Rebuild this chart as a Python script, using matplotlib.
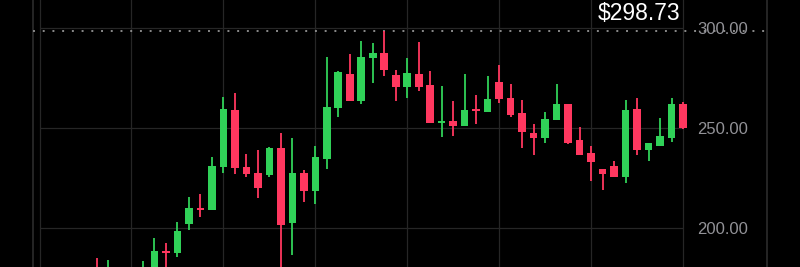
import matplotlib
matplotlib.use("Agg")
import matplotlib.pyplot as plt
from matplotlib import font_manager as fm
import numpy as np

# ---- data ----
opens  = [179, 172, 176, 171, 176, 179, 188.5, 187.5, 202, 210, 209, 230.5, 259, 230.5, 227.5,
          226.5, 240, 202.5, 227.5, 218.5, 234.5, 260, 277, 263.5, 285, 287.5, 276.5, 270.5, 277,
          271.5, 252.5, 253.5, 251, 259, 258, 273, 265, 257.5, 247.5, 245, 254, 262, 244, 237.5,
          229.5, 231, 225.5, 259.5, 239, 241, 245, 262]
closes = [174, 179, 172, 177, 180, 188.5, 187.5, 198.5, 210, 209, 231, 259.5, 230, 227, 220,
          240, 201.5, 227.5, 218.5, 235.5, 260.5, 278, 263.5, 285.5, 287.5, 279, 270.5, 277.5, 270.5,
          252.5, 253.5, 251, 259, 258.5, 264.5, 264.5, 256.5, 248, 245, 254.5, 262, 242.5, 236.5, 233,
          227, 225.5, 259, 239, 242.5, 246, 262, 250]
highs  = [185, 184, 179, 179, 183.5, 195, 192.5, 203, 215.5, 217, 235.5, 265.5, 267.5, 237, 239,
          240.5, 247.5, 245, 229, 241, 285.5, 278.5, 287, 293.5, 292.5, 298.73, 279, 285, 293,
          278.5, 271, 263.5, 277, 266.5, 276, 281.5, 272, 264, 252, 258, 272, 262, 250.5, 241,
          229.5, 233.5, 264, 265, 242.5, 255, 265, 263]
lows   = [170, 168, 168, 167, 173, 176, 179, 185.5, 199, 205.5, 209, 227.5, 227, 225.5, 215,
          225.5, 178, 186.5, 213, 212, 229.5, 255.5, 263.5, 262, 272.5, 276, 263.5, 265, 268.5,
          252.5, 245.5, 246, 251, 252, 258, 262.5, 255.5, 240, 236.5, 242.5, 254, 242, 236.5, 223.5,
          219, 225.5, 222.5, 236.5, 233.5, 241, 243, 249.5]
price_ticks = [200, 250, 300]
tick_labels = ["200.00", "250.00", "300.00"]
grid_x = [-5, 3, 11, 19, 27, 35, 43, 51]
last_high = 298.73
high_label = "$298.73"

GREEN = "#30D158"
RED = "#FF375F"
GRID = "#262626"
EDGE = "#303030"
LABEL = "#929297"

def pick_font(names):
    for n in names:
        try:
            fm.findfont(fm.FontProperties(family=n), fallback_to_default=False)
            return n
        except Exception:
            continue
    return "DejaVu Sans"

narrow = pick_font(["Liberation Sans Narrow", "Liberation Sans"])
regular = pick_font(["Liberation Sans", "DejaVu Sans"])
axis_fs = 13.4 if narrow == "Liberation Sans Narrow" else 12

W, H = 800, 267
fig = plt.figure(figsize=(W / 100, H / 100), dpi=100, facecolor="black")
ax = fig.add_axes([0, 0, 1, 1])
ax.set_facecolor("black")

# pixel -> data mapping constants (layout)
x0_px, step_px = 97, 11.49
ax.set_xlim((0 - x0_px) / step_px, (W - x0_px) / step_px)
ax.set_ylim(250 - (H - 128) / 2.0, 250 + 128 / 2.0)
for s in ax.spines.values():
    s.set_visible(False)
ax.set_xticks([])
ax.set_yticks([])

# grid
for gx in grid_x:
    ax.axvline(gx, color=GRID, lw=0.9, zorder=1)
for p in price_ticks:
    ax.hlines(p, grid_x[0], grid_x[-1], color=GRID, lw=0.9, zorder=1)
for px in (33, 767):
    ax.axvline((px - x0_px) / step_px, color=EDGE, lw=1.1, zorder=1)

# dotted high line
ax.hlines(last_high, (33 - x0_px) / step_px, (767 - x0_px) / step_px, color="#8a8a8a",
          lw=1.4, linestyles=(0, (1, 4)), zorder=2)

# candles
idx = np.arange(len(opens))
o = np.array(opens); c = np.array(closes)
hi = np.array(highs); lo = np.array(lows)
colors = [GREEN if cc >= oo else RED for oo, cc in zip(o, c)]
ax.vlines(idx, lo, hi, colors=colors, lw=1.3, zorder=3)
bottoms = np.minimum(o, c)
heights = np.maximum(np.abs(c - o), 0.9)
ax.bar(idx, heights, bottom=bottoms, width=0.66, color=colors, linewidth=0, zorder=4)

# labels
for p, t in zip(price_ticks, tick_labels):
    ax.text(697 / W, p - 0.6, t, transform=ax.get_yaxis_transform(), ha="left", va="center",
            color=LABEL, fontsize=axis_fs, family=narrow, zorder=5)
ax.text(639 / W, 1 - 14 / H, high_label, transform=ax.transAxes, ha="center", va="center",
        color="white", fontsize=16.5, family=regular, zorder=6)

fig.savefig("out.png", dpi=100, facecolor="black")
